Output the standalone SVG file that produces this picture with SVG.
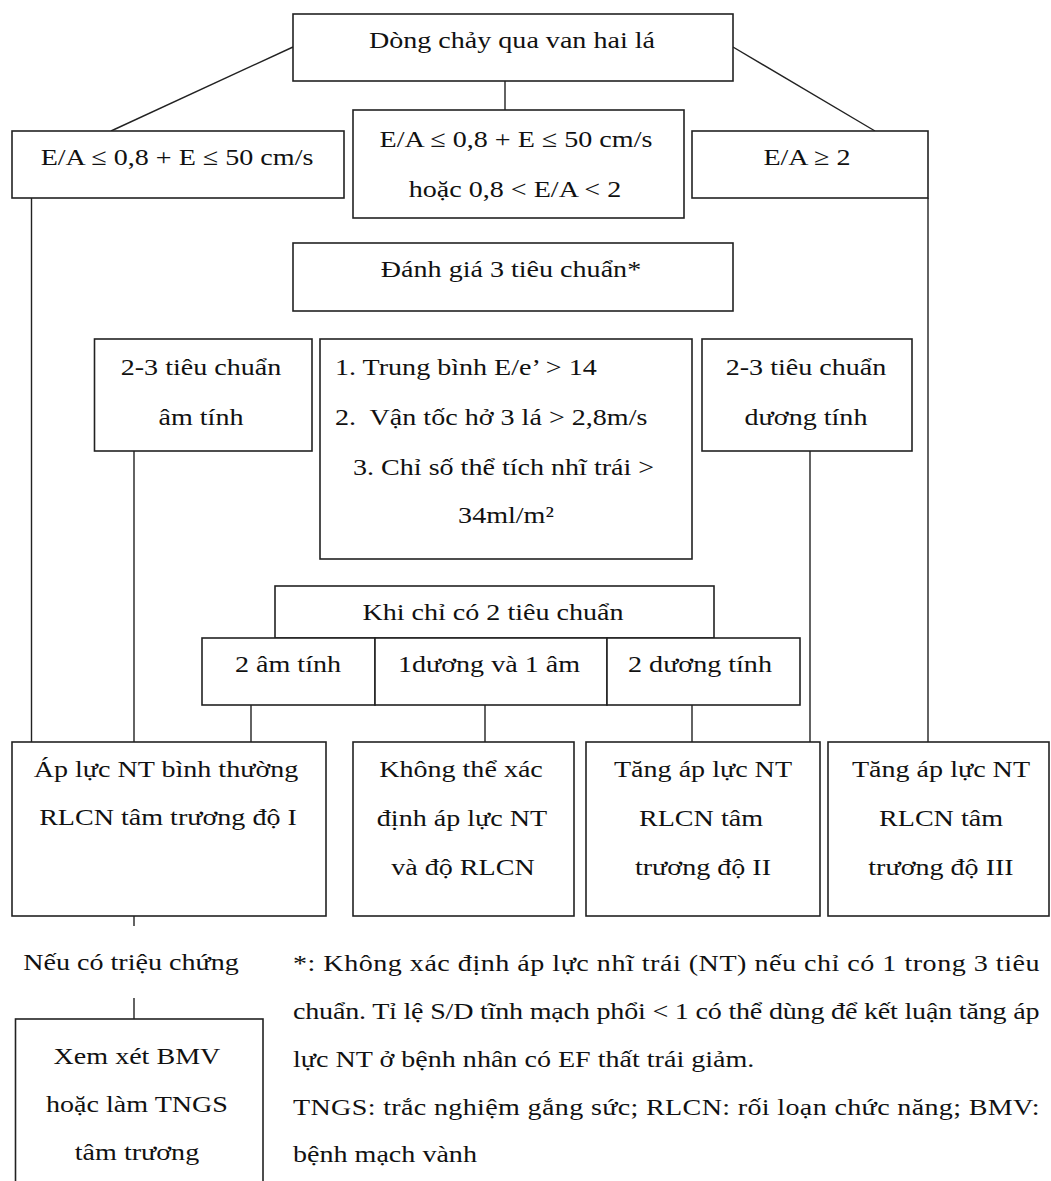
<svg xmlns="http://www.w3.org/2000/svg" width="1051" height="1181" viewBox="0 0 1051 1181">
<style>
  .box { fill: #ffffff; stroke: #222222; stroke-width: 1.6; }
  .edge { fill: none; stroke: #222222; stroke-width: 1.4; }
  text { font-family: "Liberation Serif", "Times New Roman", serif; font-size: 24px; fill: #111111; white-space: pre; }
  .c { text-anchor: middle; transform-box: fill-box; transform-origin: center; transform: scaleX(1.17); }
  .l { text-anchor: start; transform-box: fill-box; transform-origin: left center; transform: scaleX(1.17); }
</style>
<rect width="1051" height="1181" fill="#ffffff"/>

<g id="connectors">
  <line class="edge" x1="505" y1="81" x2="505" y2="110"/>
  <line class="edge" x1="293" y1="47" x2="111" y2="131"/>
  <line class="edge" x1="733" y1="47" x2="875" y2="131"/>
  <line class="edge" x1="31.5" y1="198" x2="31.5" y2="742"/>
  <line class="edge" x1="928" y1="198" x2="928" y2="742"/>
  <line class="edge" x1="134" y1="451" x2="134" y2="742"/>
  <line class="edge" x1="810" y1="451" x2="810" y2="742"/>
  <line class="edge" x1="251" y1="705" x2="251" y2="742"/>
  <line class="edge" x1="485" y1="705" x2="485" y2="742"/>
  <line class="edge" x1="692" y1="705" x2="692" y2="742"/>
  <line class="edge" x1="134" y1="916" x2="134" y2="926"/>
  <line class="edge" x1="134" y1="998" x2="134" y2="1019"/>
</g>

<g id="n_top">
  <rect class="box" x="293" y="14" width="440" height="67"/>
  <text class="c" x="512" y="48">Dòng chảy qua van hai lá</text>
</g>
<g id="n_left">
  <rect class="box" x="12" y="131" width="332" height="67"/>
  <text class="c" x="177" y="165">E/A ≤ 0,8 + E ≤ 50 cm/s</text>
</g>
<g id="n_mid">
  <rect class="box" x="353" y="110" width="331" height="108"/>
  <text class="c" x="516" y="147">E/A ≤ 0,8 + E ≤ 50 cm/s</text>
  <text class="c" x="515" y="197">hoặc 0,8 &lt; E/A &lt; 2</text>
</g>
<g id="n_right">
  <rect class="box" x="692" y="131" width="236" height="67"/>
  <text class="c" x="807" y="165">E/A ≥ 2</text>
</g>
<g id="n_eval">
  <rect class="box" x="293" y="243" width="440" height="68"/>
  <text class="c" x="511" y="277">Đánh giá 3 tiêu chuẩn*</text>
</g>
<g id="n_neg">
  <rect class="box" x="94.5" y="339" width="217.5" height="112"/>
  <text class="c" x="201" y="375">2-3 tiêu chuẩn</text>
  <text class="c" x="201" y="425">âm tính</text>
</g>
<g id="n_crit">
  <rect class="box" x="320" y="339" width="372" height="220"/>
  <text class="l" x="335" y="375">1. Trung bình E/e’ &gt; 14</text>
  <text class="l" x="335" y="425">2.  Vận tốc hở 3 lá &gt; 2,8m/s</text>
  <text class="l" x="353" y="475">3. Chỉ số thể tích nhĩ trái &gt;</text>
  <text class="c" x="506" y="523">34ml/m²</text>
</g>
<g id="n_pos">
  <rect class="box" x="702" y="339" width="210" height="112"/>
  <text class="c" x="806" y="375">2-3 tiêu chuẩn</text>
  <text class="c" x="806" y="425">dương tính</text>
</g>
<g id="n_two">
  <rect class="box" x="275" y="586" width="439" height="52"/>
  <text class="c" x="493" y="620">Khi chỉ có 2 tiêu chuẩn</text>
</g>
<g id="n_2neg">
  <rect class="box" x="202" y="638" width="173" height="67"/>
  <text class="c" x="288" y="672">2 âm tính</text>
</g>
<g id="n_mix">
  <rect class="box" x="375" y="638" width="232" height="67"/>
  <text class="c" x="489" y="672">1dương và 1 âm</text>
</g>
<g id="n_2pos">
  <rect class="box" x="607" y="638" width="193" height="67"/>
  <text class="c" x="700" y="672">2 dương tính</text>
</g>
<g id="n_r1">
  <rect class="box" x="12" y="742" width="314" height="174"/>
  <text class="c" x="166" y="777">Áp lực NT bình thường</text>
  <text class="c" x="168" y="825">RLCN tâm trương độ I</text>
</g>
<g id="n_r2">
  <rect class="box" x="353" y="742" width="221" height="174"/>
  <text class="c" x="461" y="777">Không thể xác</text>
  <text class="c" x="462" y="826">định áp lực NT</text>
  <text class="c" x="463" y="875">và độ RLCN</text>
</g>
<g id="n_r3">
  <rect class="box" x="586" y="742" width="234" height="174"/>
  <text class="c" x="703" y="777">Tăng áp lực NT</text>
  <text class="c" x="701" y="826">RLCN tâm</text>
  <text class="c" x="703" y="875">trương độ II</text>
</g>
<g id="n_r4">
  <rect class="box" x="828" y="742" width="221" height="174"/>
  <text class="c" x="941" y="777">Tăng áp lực NT</text>
  <text class="c" x="941" y="826">RLCN tâm</text>
  <text class="c" x="941" y="875">trương độ III</text>
</g>
<g id="n_symptom">
  <text class="c" x="131" y="970">Nếu có triệu chứng</text>
</g>
<g id="n_bmv">
  <rect class="box" x="15.5" y="1019" width="247.5" height="190"/>
  <text class="c" x="137" y="1064">Xem xét BMV</text>
  <text class="c" x="137" y="1112">hoặc làm TNGS</text>
  <text class="c" x="137" y="1160">tâm trương</text>
</g>
<g id="footnote">
  <text class="l" x="293" y="971" textLength="638" lengthAdjust="spacing">*: Không xác định áp lực nhĩ trái (NT) nếu chỉ có 1 trong 3 tiêu</text>
  <text class="l" x="293" y="1019" textLength="638" lengthAdjust="spacing">chuẩn. Tỉ lệ S/D tĩnh mạch phổi &lt; 1 có thể dùng để kết luận tăng áp</text>
  <text class="l" x="293" y="1067">lực NT ở bệnh nhân có EF thất trái giảm.</text>
  <text class="l" x="293" y="1115" textLength="638" lengthAdjust="spacing">TNGS: trắc nghiệm gắng sức; RLCN: rối loạn chức năng; BMV:</text>
  <text class="l" x="293" y="1162">bệnh mạch vành</text>
</g>
</svg>
